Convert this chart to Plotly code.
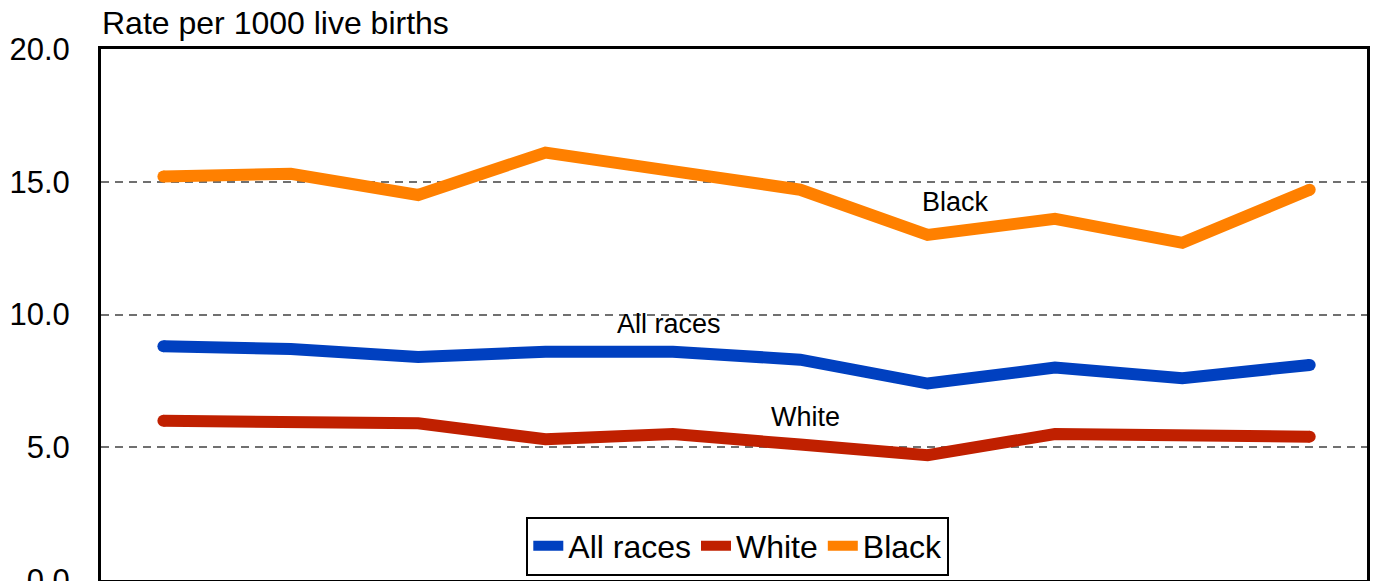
import plotly.graph_objects as go

years = ["1", "2", "3", "4", "5", "6", "7", "8", "9", "10"]
all_races = [8.8, 8.7, 8.4, 8.6, 8.6, 8.3, 7.4, 8.0, 7.6, 8.1]
white = [6.0, 6.0, 5.9, 5.3, 5.5, 5.1, 4.7, 5.5, 5.4, 5.4]
black = [15.2, 15.3, 14.5, 16.1, 15.4, 14.7, 13.0, 13.6, 12.7, 14.7]
y_ticks = [0, 5, 10, 15, 20]

series = [
    ("All races", all_races, "#0040C0"),
    ("White", white, "#C02000"),
    ("Black", black, "#FF8000"),
]

FONT = "Liberation Sans, Arial, sans-serif"
xs = list(range(len(years)))

fig = go.Figure()
for name, vals, col in series:
    fig.add_trace(go.Scatter(x=xs, y=vals, name=name, mode="lines",
                             line=dict(color=col, width=12)))
    # round end caps
    fig.add_trace(go.Scatter(x=[xs[0], xs[-1]], y=[vals[0], vals[-1]], mode="markers",
                             marker=dict(color=col, size=12, line=dict(width=0)),
                             showlegend=False, hoverinfo="skip"))

annots = [
    ("Black", 6.22, 14.25),
    ("All races", 3.97, 9.66),
    ("White", 5.04, 6.13),
]
for txt, ax_, ay_ in annots:
    fig.add_annotation(x=ax_, y=ay_, xref="x", yref="y", text=txt, showarrow=False,
                       font=dict(size=27, color="black", family=FONT))

fig.add_annotation(x=0, y=1, xref="paper", yref="paper", xanchor="left", yanchor="bottom",
                   yshift=6, xshift=-1, text="Rate per 1000 live births", showarrow=False,
                   font=dict(size=32, color="black", family=FONT))

fig.update_layout(
    width=1373, height=573,
    margin=dict(l=93, r=14, t=41, b=1, autoexpand=False),
    paper_bgcolor="white", plot_bgcolor="white",
    font=dict(family=FONT, color="black"),
    showlegend=True,
    legend=dict(orientation="h", x=0.503, xanchor="center", y=0.064, yanchor="middle",
                bordercolor="black", borderwidth=2, bgcolor="white",
                font=dict(size=32, family=FONT, color="black"),
                itemwidth=30, tracegroupgap=0),
)
fig.update_xaxes(range=[-0.49, len(years) - 0.55], showticklabels=False, ticks="",
                 showgrid=False, zeroline=False, showline=True, linewidth=3,
                 linecolor="black", mirror=True, automargin=False)
fig.update_yaxes(range=[0, 20], tickvals=y_ticks, tickformat=".1f", ticks="",
                 ticklabelstandoff=22, ticklabeloverflow="allow", automargin=False,
                 tickfont=dict(size=31, family=FONT, color="black"),
                 showgrid=True, gridcolor="#707070", gridwidth=1.5, griddash="8px,6px",
                 zeroline=False, showline=True, linewidth=3, linecolor="black", mirror=True)

fig.write_html("out.html")
